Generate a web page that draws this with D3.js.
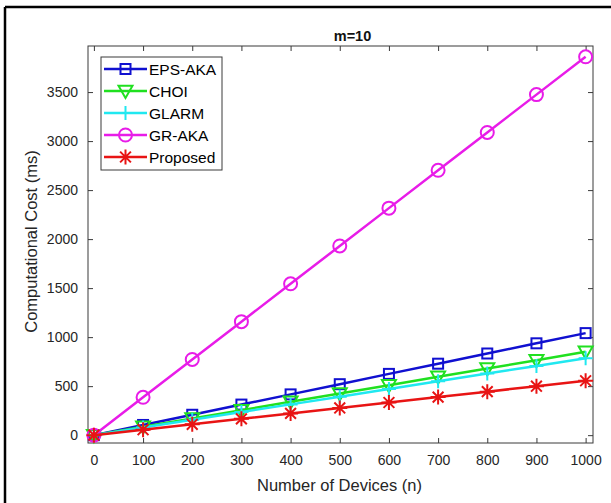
<!DOCTYPE html>
<html>
<head>
<meta charset="utf-8">
<script src="https://cdn.jsdelivr.net/npm/d3@7"></script>
<style>
  html, body { margin: 0; padding: 0; background: #fff; }
  svg { display: block; font-family: "Liberation Sans", Arial, sans-serif; }
</style>
</head>
<body>
<svg id="chart" width="611" height="503"></svg>
<script>
// Number of devices (x axis)
const devices = [0, 100, 200, 300, 400, 500, 600, 700, 800, 900, 1000];
const xTicks = [0, 100, 200, 300, 400, 500, 600, 700, 800, 900, 1000];
const yTicks = [0, 500, 1000, 1500, 2000, 2500, 3000, 3500];

// Computational cost (ms) per scheme
const epsAka   = [0, 104, 208, 312, 416, 520, 625, 729, 833, 937, 1041];
const choi     = [0, 85, 170, 255, 340, 425, 510, 595, 680, 765, 850];
const glarm    = [0, 78.5, 157, 235.5, 314, 392.5, 471, 549.5, 628, 706.5, 785];
const grAka    = [0, 386, 772, 1158, 1544, 1930, 2316, 2702, 3088, 3474, 3860];
const proposed = [0, 55.5, 111, 166.5, 222, 277.5, 333, 388.5, 444, 499.5, 555];

const seriesNames = ["EPS-AKA", "CHOI", "GLARM", "GR-AKA", "Proposed"];
const seriesValues = [epsAka, choi, glarm, grAka, proposed];
const seriesColors = ["#1010d0", "#20e020", "#20e8f0", "#e81ce8", "#e81414"];
const seriesMarkers = ["square", "triangleDown", "plus", "circle", "asterisk"];

const svg = d3.select("#chart");
const axisColor = "#3a3a3a";
const textColor = "#262626";

// outer frame (left and top edges)
svg.append("line").attr("x1", 5).attr("x2", 5).attr("y1", 7).attr("y2", 503)
  .attr("stroke", "#000").attr("stroke-width", 2.5);
svg.append("line").attr("x1", 5).attr("x2", 611).attr("y1", 7).attr("y2", 7)
  .attr("stroke", "#000").attr("stroke-width", 2.5);

const plot = { left: 88, right: 593, top: 46, bottom: 443 };
const x = d3.scaleLinear().domain([-12, 1015]).range([plot.left, plot.right]);
const y = d3.scaleLinear().domain([-80, 3970]).range([plot.bottom, plot.top]);

// axes with inward ticks on all four sides
const tickLen = 5;
const bottomAxis = d3.axisBottom(x).tickValues(xTicks).tickSize(-tickLen).tickPadding(12).tickFormat(d3.format("d"));
const topAxis = d3.axisTop(x).tickValues(xTicks).tickSize(-tickLen).tickFormat("");
const leftAxis = d3.axisLeft(y).tickValues(yTicks).tickSize(-tickLen).tickPadding(10).tickFormat(d3.format("d"));
const rightAxis = d3.axisRight(y).tickValues(yTicks).tickSize(-tickLen).tickFormat("");

function styleAxis(g) {
  g.select(".domain").remove();
  g.selectAll(".tick line").attr("stroke", axisColor).attr("stroke-width", 1);
  g.selectAll(".tick text").attr("fill", textColor).style("font-size", "14px")
    .style("font-family", "'Liberation Sans', Arial, sans-serif");
}

svg.append("g").attr("transform", `translate(0,${plot.bottom})`).call(bottomAxis).call(styleAxis);
svg.append("g").attr("transform", `translate(0,${plot.top})`).call(topAxis).call(styleAxis);
svg.append("g").attr("transform", `translate(${plot.left},0)`).call(leftAxis).call(styleAxis);
svg.append("g").attr("transform", `translate(${plot.right},0)`).call(rightAxis).call(styleAxis);

// axes box
svg.append("rect")
  .attr("x", plot.left).attr("y", plot.top)
  .attr("width", plot.right - plot.left).attr("height", plot.bottom - plot.top)
  .attr("fill", "none").attr("stroke", axisColor).attr("stroke-width", 1);

// marker drawing helper
function drawMarker(g, type, color, cx, cy) {
  const sw = 2;
  if (type === "square") {
    g.append("rect").attr("x", cx - 5).attr("y", cy - 5).attr("width", 10).attr("height", 10)
      .attr("fill", "none").attr("stroke", color).attr("stroke-width", sw);
  } else if (type === "circle") {
    g.append("circle").attr("cx", cx).attr("cy", cy).attr("r", 6.5)
      .attr("fill", "none").attr("stroke", color).attr("stroke-width", sw);
  } else if (type === "triangleDown") {
    const s = 7;
    g.append("path")
      .attr("d", `M${cx - s},${cy - s * 0.75}L${cx + s},${cy - s * 0.75}L${cx},${cy + s}Z`)
      .attr("fill", "none").attr("stroke", color).attr("stroke-width", sw);
  } else if (type === "plus") {
    const s = 7;
    g.append("path").attr("d", `M${cx - s},${cy}L${cx + s},${cy}M${cx},${cy - s}L${cx},${cy + s}`)
      .attr("stroke", color).attr("stroke-width", sw);
  } else if (type === "asterisk") {
    const s = 7.5, d = s * 0.72;
    g.append("path")
      .attr("d", `M${cx - s},${cy}L${cx + s},${cy}M${cx},${cy - s}L${cx},${cy + s}` +
                 `M${cx - d},${cy - d}L${cx + d},${cy + d}M${cx - d},${cy + d}L${cx + d},${cy - d}`)
      .attr("stroke", color).attr("stroke-width", sw);
  }
}

const line = d3.line().x(d => x(d[0])).y(d => y(d[1]));

seriesValues.forEach((vals, i) => {
  const g = svg.append("g");
  const pts = devices.map((n, j) => [n, vals[j]]);
  g.append("path").datum(pts).attr("d", line)
    .attr("fill", "none").attr("stroke", seriesColors[i]).attr("stroke-width", 2.5);
  pts.forEach(p => drawMarker(g, seriesMarkers[i], seriesColors[i], x(p[0]), y(p[1])));
});

// title and axis labels
svg.append("text").attr("x", (plot.left + plot.right) / 2 + 12).attr("y", 41)
  .attr("text-anchor", "middle").attr("fill", "#111").style("font-size", "14.5px")
  .style("font-weight", "bold").text("m=10");
svg.append("text").attr("x", (plot.left + plot.right) / 2 - 1).attr("y", 491)
  .attr("text-anchor", "middle").attr("fill", textColor).style("font-size", "16.5px")
  .text("Number of Devices (n)");
svg.append("text").attr("transform", `translate(37,${(plot.top + plot.bottom) / 2 - 3}) rotate(-90)`)
  .attr("text-anchor", "middle").attr("fill", textColor).style("font-size", "16.5px")
  .text("Computational Cost (ms)");

// legend
const legend = svg.append("g");
legend.append("rect").attr("x", 101).attr("y", 57).attr("width", 121).attr("height", 113)
  .attr("fill", "#fff").attr("stroke", axisColor).attr("stroke-width", 1);
seriesNames.forEach((name, i) => {
  const ly = 69 + i * 22;
  legend.append("line").attr("x1", 104).attr("x2", 147).attr("y1", ly).attr("y2", ly)
    .attr("stroke", seriesColors[i]).attr("stroke-width", 2.5);
  drawMarker(legend, seriesMarkers[i], seriesColors[i], 125.5, ly);
  legend.append("text").attr("x", 149).attr("y", ly + 5.5).attr("fill", "#000")
    .style("font-size", "15.5px").text(name);
});
</script>
</body>
</html>
